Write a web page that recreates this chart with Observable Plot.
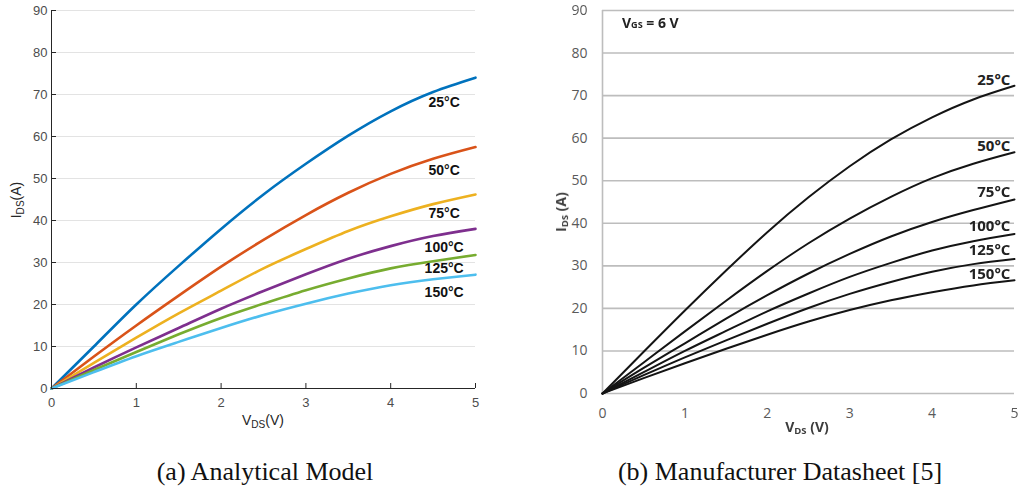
<!DOCTYPE html>
<html>
<head>
<meta charset="utf-8">
<script src="https://cdn.jsdelivr.net/npm/d3@7"></script>
<script src="https://cdn.jsdelivr.net/npm/@observablehq/plot@0.6"></script>
<style>
  body { margin: 0; background: #fff; }
  #page { position: relative; width: 1019px; height: 495px; overflow: hidden; background: #fff; }
  .panel { position: absolute; top: 0; }
  .panel svg { display: block; }
  #right svg { filter: blur(0.45px); }
  .lab { position: absolute; white-space: nowrap; transform: translate(-50%, -50%); line-height: 1; }
  .lab.rot { transform: translate(-50%, -50%) rotate(-90deg); }
  .lab sub { font-size: 0.72em; vertical-align: -0.3em; }
  .a-lab { font-family: "Liberation Sans", Arial, sans-serif; font-size: 14px; color: #262626; }
  .b-lab { font-family: "Open Sans", sans-serif; font-weight: 700; font-size: 14px; color: #3c3c3c; }
  .b-lab sub { font-size: 0.68em; vertical-align: -0.25em; }
  .vgs { font-family: "Open Sans", sans-serif; font-weight: 700; font-size: 14px; color: #222; position: absolute; white-space: nowrap; line-height: 1; filter: blur(0.35px); }
  .vgs sub { font-size: 0.65em; vertical-align: 0; }
  .cap { position: absolute; top: 472px; transform: translate(-50%, -50%); font-family: "Liberation Serif", "Times New Roman", serif; font-size: 26px; color: #111; white-space: nowrap; }
</style>
</head>
<body>
<div id="page">
  <div class="panel" id="left" style="left:0px"></div>
  <div class="panel" id="right" style="left:510px"></div>

  <div class="lab rot a-lab" style="left:18px; top:200px">I<sub>DS</sub>(A)</div>
  <div class="lab a-lab" style="left:263px; top:422px">V<sub>DS</sub>(V)</div>

  <div class="lab rot b-lab" style="left:562px; top:212px">I<sub>DS</sub> (A)</div>
  <div class="lab b-lab" style="left:807px; top:428px">V<sub>DS</sub> (V)</div>
  <div class="vgs" style="left:622px; top:16px">V<sub>GS</sub> = 6 V</div>

  <div class="cap" style="left:265px">(a) Analytical Model</div>
  <div class="cap" style="left:780px">(b) Manufacturer Datasheet [5]</div>
</div>
<script>
// Drain-source voltage samples (V) shared by every curve
const vds = [0, 0.5, 1, 1.5, 2, 2.5, 3, 3.5, 4, 4.5, 5];
const temps = ["25°C", "50°C", "75°C", "100°C", "125°C", "150°C"];
const vTicks = [0, 1, 2, 3, 4, 5];
const iTicks = [0, 10, 20, 30, 40, 50, 60, 70, 80, 90];

// (a) analytical model, I_DS (A) per temperature
const model25  = [0, 10.0, 20.0, 29.2, 38.0, 46.2, 53.5, 60.2, 66.0, 70.6, 74.0];
const model50  = [0, 7.6, 15.0, 22.1, 29.0, 35.4, 41.3, 46.6, 51.1, 54.7, 57.5];
const model75  = [0, 6.1, 12.1, 17.9, 23.3, 28.6, 33.2, 37.5, 41.0, 43.9, 46.2];
const model100 = [0, 5.0, 9.8, 14.4, 19.0, 23.2, 27.2, 30.9, 33.9, 36.3, 38.0];
const model125 = [0, 4.4, 8.7, 12.9, 16.8, 20.2, 23.4, 26.2, 28.6, 30.3, 31.8];
const model150 = [0, 3.9, 7.7, 11.1, 14.4, 17.5, 20.2, 22.6, 24.6, 26.0, 27.1];

// (b) manufacturer datasheet, I_DS (A) per temperature
const sheet25  = [0, 9.8, 19.5, 28.9, 37.9, 46.1, 53.4, 59.7, 64.9, 69.1, 72.3];
const sheet50  = [0, 7.3, 14.6, 21.8, 28.8, 35.3, 41.1, 46.2, 50.6, 54.0, 56.7];
const sheet75  = [0, 6.0, 11.8, 17.6, 23.1, 28.2, 32.8, 36.9, 40.3, 43.1, 45.6];
const sheet100 = [0, 5.0, 10.0, 14.7, 19.3, 23.5, 27.4, 30.7, 33.6, 35.8, 37.5];
const sheet125 = [0, 4.3, 8.5, 12.5, 16.4, 20.1, 23.4, 26.2, 28.6, 30.4, 31.6];
const sheet150 = [0, 3.6, 7.1, 10.5, 13.8, 16.9, 19.6, 21.9, 23.8, 25.4, 26.6];

// Curve label anchors, in data units (V, A)
const modelLabelV = 4.63;
const modelLabelI = [68.1, 51.9, 41.6, 33.5, 28.5, 22.9];
const sheetLabelV = 4.95;
const sheetLabelI = [73.6, 58.0, 47.4, 39.3, 33.7, 28.0];

const matlabColors = ["#0072BD", "#D95319", "#EDB120", "#7E2F8E", "#77AC30", "#4DBEEE"];

function toRows(series) {
  return series.flatMap((values, k) => values.map((i, j) => ({v: vds[j], i, t: temps[k]})));
}
const modelRows = toRows([model25, model50, model75, model100, model125, model150]);
const sheetRows = toRows([sheet25, sheet50, sheet75, sheet100, sheet125, sheet150]);
const modelLabels = temps.map((t, k) => ({t, v: modelLabelV, i: modelLabelI[k]}));
const sheetLabels = temps.map((t, k) => ({t, v: sheetLabelV, i: sheetLabelI[k]}));

const left = Plot.plot({
  width: 500, height: 440,
  marginLeft: 51, marginRight: 25, marginTop: 10, marginBottom: 52,
  x: {domain: [0, 5], ticks: vTicks, tickFormat: "d"},
  y: {domain: [0, 90], ticks: iTicks, tickFormat: "d"},
  color: {domain: temps, range: matlabColors},
  style: {fontFamily: "'Liberation Sans', Arial, sans-serif", fontSize: "13px", color: "#4d4d4d", background: "white", overflow: "visible"},
  marks: [
    Plot.gridY(iTicks.filter(d => d > 0), {stroke: "#e3e3e3", strokeOpacity: 1}),
    Plot.line(modelRows, {x: "v", y: "i", z: "t", stroke: "t", strokeWidth: 2.6, curve: "natural"}),
    Plot.ruleX([0], {stroke: "#262626", strokeWidth: 1}),
    Plot.ruleY([0], {stroke: "#262626", strokeWidth: 1}),
    Plot.axisY({ticks: iTicks, tickSize: -5, fill: "none", stroke: "#262626", label: null}),
    Plot.axisX({ticks: vTicks, tickSize: -5, fill: "none", stroke: "#262626", label: null}),
    Plot.axisY({ticks: iTicks, tickSize: 0, tickPadding: 4, tickFormat: "d", label: null}),
    Plot.axisX({ticks: vTicks, tickSize: 0, tickPadding: 9, tickFormat: "d", label: null}),
    Plot.text(modelLabels, {x: "v", y: "i", text: "t", fontWeight: "bold", fontSize: 14, fill: "#111"})
  ]
});
document.getElementById("left").append(left);

const right = Plot.plot({
  width: 509, height: 440,
  marginLeft: 92, marginRight: 5, marginTop: 10, marginBottom: 47,
  x: {domain: [0, 5], ticks: vTicks, tickFormat: "d"},
  y: {domain: [0, 90], ticks: iTicks, tickFormat: "d"},
  style: {fontFamily: "'Open Sans', sans-serif", fontSize: "14px", color: "#5a5a5a", background: "white", overflow: "visible"},
  marks: [
    Plot.gridY(iTicks, {stroke: "#bdbdbd", strokeOpacity: 1, strokeWidth: 1.6}),
    Plot.ruleX([0], {stroke: "#bdbdbd", strokeWidth: 1.6}),
    Plot.line(sheetRows, {x: "v", y: "i", z: "t", stroke: "#141414", strokeWidth: 2, curve: "natural"}),
    Plot.axisY({ticks: iTicks, tickSize: 0, tickPadding: 15, tickFormat: "d", label: null}),
    Plot.axisX({ticks: vTicks, tickSize: 0, tickPadding: 15, tickFormat: "d", label: null}),
    Plot.text(sheetLabels, {x: "v", y: "i", text: "t", textAnchor: "end", fontWeight: "bold", fontSize: 15, fill: "#222"})
  ]
});
document.getElementById("right").append(right);
</script>
</body>
</html>
